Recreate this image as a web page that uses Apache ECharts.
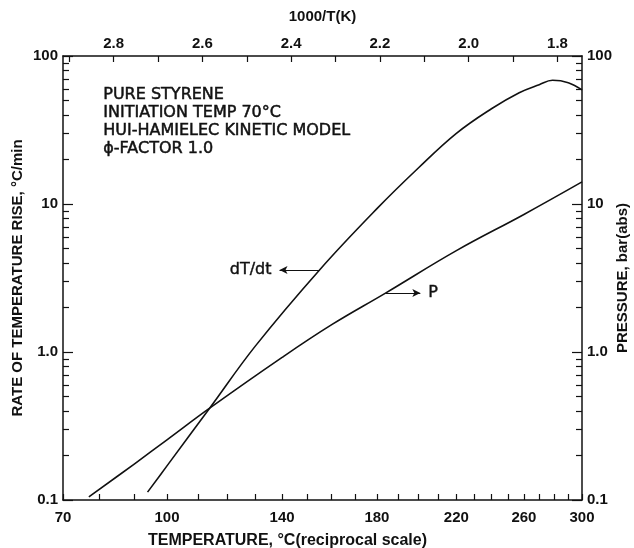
<!DOCTYPE html>
<html>
<head>
<meta charset="utf-8">
<script src="https://cdn.jsdelivr.net/npm/echarts@6/dist/echarts.min.js"></script>
<style>html,body{margin:0;padding:0;background:#fff}#c{width:634px;height:548px}</style>
</head>
<body>
<div id="c"></div>
<script>
// ---- data (temperatures in °C) ----
var dTdtTemps = [94, 100, 114, 130, 155, 180, 200, 220, 240, 257, 270, 279, 290, 300];
var dTdtValues = [0.113, 0.17, 0.42, 1.1, 3.6, 9.3, 17.5, 30, 44, 56.5, 64, 68.5, 66, 59];
var pTemps = [77, 90, 100, 114, 140, 160, 184, 220, 260, 300];
var pValues = [0.105, 0.175, 0.255, 0.419, 0.92, 1.53, 2.5, 4.84, 8.5, 14.1];
var bottomTickTemps = [70,80,90,100,110,120,130,140,150,160,170,180,190,200,210,220,230,240,250,260,270,280,290,300];
var bottomLabelTemps = [70, 100, 140, 180, 220, 260, 300];
var topTicks = [1.8,1.9,2.0,2.1,2.2,2.3,2.4,2.5,2.6,2.7,2.8,2.9];
var topLabels = [1.8, 2.0, 2.2, 2.4, 2.6, 2.8];
var yMajor = [0.1, 1, 10, 100];
var yMinor = [0.2,0.3,0.4,0.5,0.6,0.7,0.8,0.9,2,3,4,5,6,7,8,9,20,30,40,50,60,70,80,90];
var infoLines = ['PURE STYRENE', 'INITIATION TEMP 70\u00B0C', 'HUI-HAMIELEC KINETIC MODEL', '\u03D5-FACTOR 1.0'];

function inv(t) { return 1000 / (t + 273.15); }
var uMin = inv(300), uMax = inv(70);
var FONT = 'Liberation Sans';
var black = '#111';

function pairs(ts, vs) { return ts.map(function (t, i) { return [inv(t), vs[i]]; }); }

var chart = echarts.init(document.getElementById('c'), null, {renderer: 'canvas'});

var lblStyle = {color: black, fontFamily: FONT, fontSize: 15, fontWeight: 'bold'};
var annStyle = {color: black, fontFamily: 'DejaVu Sans', fontSize: 16, fontWeight: 'normal',
  textBorderColor: black, textBorderWidth: 0.4};
var baseX = {
  type: 'value', min: uMin, max: uMax, inverse: true,
  splitLine: {show: false},
  axisLine: {lineStyle: {color: black, width: 1.5}},
  axisTick: {inside: true, length: 6, lineStyle: {color: black, width: 1.2}},
  axisLabel: Object.assign({margin: 10}, lblStyle),
  nameTextStyle: Object.assign({}, lblStyle)
};
function yAx(pos, name, gap) {
  return {
    type: 'log', logBase: 10, min: 0.1, max: 100, position: pos,
    splitLine: {show: false},
    axisLine: {show: true, lineStyle: {color: black, width: 1.5}},
    axisTick: {show: true, inside: true, length: 10, customValues: yMajor, lineStyle: {color: black, width: 1.2}},
    axisLabel: Object.assign({show: true, margin: 5,
      customValues: yMajor,
      formatter: function (v) { return v >= 10 ? String(Math.round(v)) : Number(v).toFixed(1); }}, lblStyle),
    name: name, nameLocation: 'middle', nameRotate: 90, nameGap: gap, nameMoveOverlap: false,
    nameTextStyle: Object.assign({}, lblStyle)
  };
}
function yMinorAx(pos) {
  return {
    type: 'log', logBase: 10, min: 0.1, max: 100, position: pos,
    splitLine: {show: false},
    axisLine: {show: false},
    axisTick: {show: true, inside: true, length: 6, customValues: yMinor, lineStyle: {color: black, width: 1.2}},
    axisLabel: {show: false}
  };
}

var option = {
  animation: false,
  backgroundColor: '#fff',
  grid: {left: 63, right: 52, top: 56, bottom: 48, containLabel: false, outerBoundsMode: 'none'},
  xAxis: [
    Object.assign({}, baseX, {
      position: 'bottom',
      axisTick: Object.assign({}, baseX.axisTick, {customValues: bottomTickTemps.map(inv)}),
      axisLabel: Object.assign({}, baseX.axisLabel, {
        customValues: bottomLabelTemps.map(inv), showMinLabel: true, showMaxLabel: true,
        formatter: function (v) { return String(Math.round(1000 / v - 273.15)); }
      }),
      name: 'TEMPERATURE, \u00B0C(reciprocal scale)', nameLocation: 'middle', nameGap: 33,
      nameTextStyle: Object.assign({}, lblStyle, {fontSize: 16, padding: [0, 70, 0, 0]})
    }),
    Object.assign({}, baseX, {
      position: 'top',
      axisTick: Object.assign({}, baseX.axisTick, {customValues: topTicks}),
      axisLabel: Object.assign({}, baseX.axisLabel, {
        customValues: topLabels, margin: 5,
        formatter: function (v) { return Number(v).toFixed(1); }
      }),
      name: '1000/T(K)', nameLocation: 'middle', nameGap: 32
    })
  ],
  yAxis: [
    yAx('left', 'RATE OF TEMPERATURE RISE, \u00B0C/min', 38),
    yAx('right', 'PRESSURE, bar(abs)', 33),
    yMinorAx('left'),
    yMinorAx('right')
  ],
  graphic: [{
    type: 'text', left: 103, top: 86,
    style: {text: infoLines.join('\n'), fill: black, font: '16px "DejaVu Sans"', lineHeight: 18,
      stroke: black, lineWidth: 0.5}
  }],
  series: [
    {
      name: 'dT/dt', type: 'line', xAxisIndex: 0, yAxisIndex: 0,
      data: pairs(dTdtTemps, dTdtValues), smooth: 0.4, showSymbol: false,
      lineStyle: {color: black, width: 1.6}, silent: true,
      markLine: {
        silent: true, animation: false,
        lineStyle: {color: black, width: 1.2, type: 'solid'},
        data: [[
          {coord: [inv(155), 3.58], symbol: 'none'},
          {coord: [inv(139), 3.58], symbol: 'arrow', symbolSize: [6, 8]}
        ]],
        label: Object.assign({show: true, position: 'end', formatter: 'dT/dt', distance: 8}, annStyle)
      }
    },
    {
      name: 'P', type: 'line', xAxisIndex: 0, yAxisIndex: 1,
      data: pairs(pTemps, pValues), smooth: 0.4, showSymbol: false,
      lineStyle: {color: black, width: 1.6}, silent: true,
      markLine: {
        silent: true, animation: false,
        lineStyle: {color: black, width: 1.2, type: 'solid'},
        data: [[
          {coord: [inv(184), 2.5], symbol: 'none'},
          {coord: [inv(201), 2.5], symbol: 'arrow', symbolSize: [6, 8]}
        ]],
        label: Object.assign({show: true, position: 'end', formatter: 'P', distance: 8}, annStyle)
      }
    }
  ]
};
chart.setOption(option);
</script>
</body>
</html>
